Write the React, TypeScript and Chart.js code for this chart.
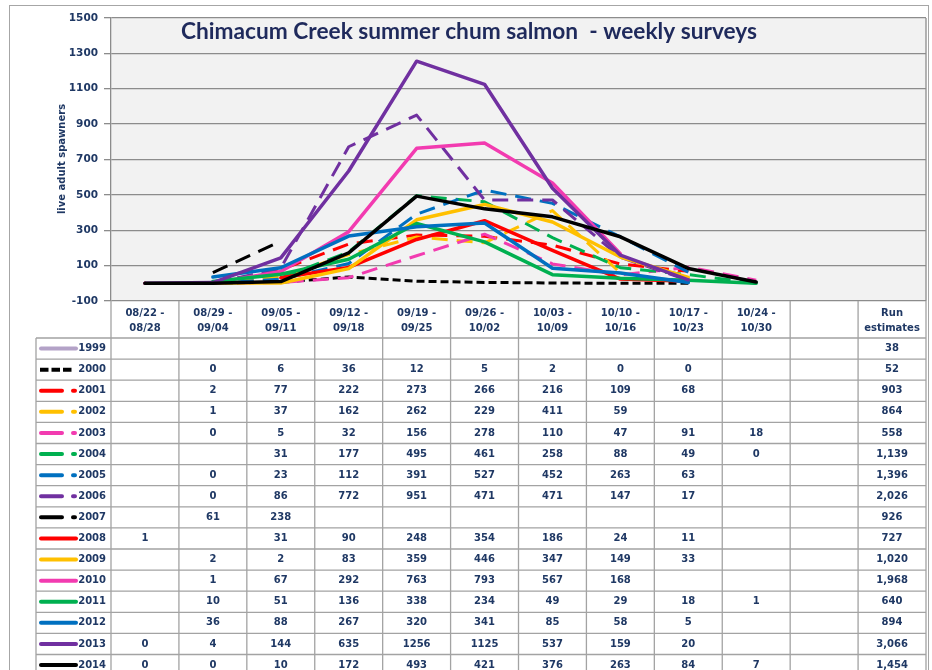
import { useEffect, useRef } from 'react';
import { Chart, registerables } from 'chart.js';

Chart.register(...registerables);

// ---- data ----
const weekStart = ['08/22 -', '08/29 -', '09/05 -', '09/12 -', '09/19 -', '09/26 -', '10/03 -', '10/10 -', '10/17 -', '10/24 -', '', 'Run'];
const weekEnd = ['08/28', '09/04', '09/11', '09/18', '09/25', '10/02', '10/09', '10/16', '10/23', '10/30', '', 'estimates'];

const years = ['1999', '2000', '2001', '2002', '2003', '2004', '2005', '2006', '2007', '2008', '2009', '2010', '2011', '2012', '2013', '2014'];

const y1999: (number | null)[] = [null, null, null, null, null, null, null, null, null, null];
const y2000: (number | null)[] = [null, 0, 6, 36, 12, 5, 2, 0, 0, null];
const y2001: (number | null)[] = [null, 2, 77, 222, 273, 266, 216, 109, 68, null];
const y2002: (number | null)[] = [null, 1, 37, 162, 262, 229, 411, 59, null, null];
const y2003: (number | null)[] = [null, 0, 5, 32, 156, 278, 110, 47, 91, 18];
const y2004: (number | null)[] = [null, null, 31, 177, 495, 461, 258, 88, 49, 0];
const y2005: (number | null)[] = [null, 0, 23, 112, 391, 527, 452, 263, 63, null];
const y2006: (number | null)[] = [null, 0, 86, 772, 951, 471, 471, 147, 17, null];
const y2007: (number | null)[] = [null, 61, 238, null, null, null, null, null, null, null];
const y2008: (number | null)[] = [1, null, 31, 90, 248, 354, 186, 24, 11, null];
const y2009: (number | null)[] = [null, 2, 2, 83, 359, 446, 347, 149, 33, null];
const y2010: (number | null)[] = [null, 1, 67, 292, 763, 793, 567, 168, null, null];
const y2011: (number | null)[] = [null, 10, 51, 136, 338, 234, 49, 29, 18, 1];
const y2012: (number | null)[] = [null, 36, 88, 267, 320, 341, 85, 58, 5, null];
const y2013: (number | null)[] = [0, 4, 144, 635, 1256, 1125, 537, 159, 20, null];
const y2014: (number | null)[] = [0, 0, 10, 172, 493, 421, 376, 263, 84, 7];

const runEstimates = [38, 52, 903, 864, 558, 1139, 1396, 2026, 926, 727, 1020, 1968, 640, 894, 3066, 1454];

const yTicks = { min: -100, max: 1500, step: 200 };

// ---- styles ----
const seriesData = [y1999, y2000, y2001, y2002, y2003, y2004, y2005, y2006, y2007, y2008, y2009, y2010, y2011, y2012, y2013, y2014];
const seriesColor = ['#b3a2c7', '#000000', '#ff0000', '#ffc000', '#f23bb0', '#00b050', '#0070c0', '#7030a0', '#000000', '#ff0000', '#ffc000', '#f23bb0', '#00b050', '#0070c0', '#7030a0', '#000000'];
const seriesKind = ['solid', 'short', 'long', 'long', 'long', 'long', 'long', 'long', 'long', 'solid', 'solid', 'solid', 'solid', 'solid', 'solid', 'solid'];

const TEXT = '#1f3864';
const GRID = '#8c8c8c';
const TABLE_LINE = '#a3a3a3';
const W = 932;
const H = 670;

const fmt = (v: number) => v.toLocaleString('en-US');

const tablePlugin = {
  id: 'tablePlugin',
  beforeDraw(chart: any) {
    const { ctx, chartArea: a } = chart;
    ctx.save();
    ctx.fillStyle = '#ffffff';
    ctx.fillRect(0, 0, W, H);
    ctx.strokeStyle = '#a6a6a6';
    ctx.lineWidth = 1;
    ctx.strokeRect(9.5, 5.5, 919, 700);
    ctx.fillStyle = '#f2f2f2';
    ctx.fillRect(a.left, a.top, a.right - a.left, a.bottom - a.top);
    ctx.restore();
  },
  afterDraw(chart: any) {
    const { ctx, chartArea: a } = chart;
    const xs = chart.scales.x;
    const n = weekStart.length;
    const colW = (a.right - a.left) / n;
    const headerH = 37;
    const rowH = 21.1;
    const headBottom = a.bottom + headerH;
    const legendLeft = 36;
    ctx.save();

    // plot right border
    ctx.strokeStyle = GRID;
    ctx.lineWidth = 1.3;
    ctx.beginPath();
    ctx.moveTo(a.right, a.top);
    ctx.lineTo(a.right, a.bottom);
    ctx.stroke();

    // table grid
    ctx.strokeStyle = TABLE_LINE;
    ctx.lineWidth = 1.3;
    ctx.beginPath();
    for (let k = 0; k <= n; k++) {
      const x = xs.getPixelForValue(0) - colW / 2 + k * colW;
      ctx.moveTo(x, a.bottom);
      ctx.lineTo(x, H);
    }
    ctx.moveTo(legendLeft, headBottom);
    ctx.lineTo(legendLeft, H);
    for (let i = 0; i <= years.length; i++) {
      const y = headBottom + i * rowH;
      ctx.moveTo(legendLeft, y);
      ctx.lineTo(a.right, y);
    }
    ctx.stroke();

    // header text
    ctx.fillStyle = TEXT;
    ctx.font = 'bold 10px "DejaVu Sans"';
    ctx.textAlign = 'center';
    ctx.textBaseline = 'middle';
    for (let j = 0; j < n; j++) {
      const x = xs.getPixelForValue(j);
      ctx.fillText(weekStart[j], x, a.bottom + 12);
      ctx.fillText(weekEnd[j], x, a.bottom + 27);
    }

    // rows
    for (let i = 0; i < years.length; i++) {
      const cy = headBottom + i * rowH + rowH / 2;
      // legend sample
      ctx.strokeStyle = seriesColor[i];
      ctx.lineWidth = 4;
      ctx.lineCap = 'round';
      ctx.beginPath();
      const kind = seriesKind[i];
      if (kind === 'solid') {
        ctx.moveTo(41, cy);
        ctx.lineTo(76, cy);
      } else if (kind === 'short') {
        ctx.lineCap = 'butt';
        for (let d = 0; d < 3; d++) {
          ctx.moveTo(40 + d * 11.5, cy);
          ctx.lineTo(48.5 + d * 11.5, cy);
        }
      } else {
        ctx.moveTo(41, cy);
        ctx.lineTo(62, cy);
        ctx.moveTo(73, cy);
        ctx.lineTo(75, cy);
      }
      ctx.stroke();

      ctx.fillStyle = TEXT;
      ctx.textAlign = 'right';
      ctx.fillText(years[i], 106, cy);
      ctx.textAlign = 'center';
      const vals = seriesData[i];
      for (let j = 0; j < vals.length; j++) {
        const v = vals[j];
        if (v !== null && v !== undefined) ctx.fillText(String(v), xs.getPixelForValue(j), cy);
      }
      ctx.fillText(fmt(runEstimates[i]), xs.getPixelForValue(n - 1), cy);
    }

    // title
    const title = 'Chimacum Creek summer chum salmon  - weekly surveys';
    ctx.font = 'bold 20px Lato';
    const w20 = ctx.measureText(title).width;
    const size = (20 * 576) / w20;
    ctx.font = `bold ${size.toFixed(2)}px Lato`;
    ctx.fillStyle = '#1f2a5c';
    ctx.textAlign = 'center';
    ctx.textBaseline = 'alphabetic';
    ctx.fillText(title, 469, 39);

    // y title
    ctx.translate(62, 159);
    ctx.rotate(-Math.PI / 2);
    ctx.font = 'bold 10px "DejaVu Sans"';
    ctx.fillStyle = TEXT;
    ctx.textAlign = 'center';
    ctx.textBaseline = 'middle';
    ctx.fillText('live adult spawners', 0, 0);

    ctx.restore();
  },
};

export default function App() {
  const ref = useRef<HTMLCanvasElement | null>(null);
  useEffect(() => {
    if (!ref.current) return;
    const datasets = years.map((yr, i) => {
      const kind = seriesKind[i];
      return {
        label: yr,
        data: seriesData[i],
        borderColor: seriesColor[i],
        backgroundColor: seriesColor[i],
        borderWidth: kind === 'solid' ? 3.5 : 3,
        borderDash: kind === 'short' ? [8, 4] : kind === 'long' ? [16, 9] : [],
        borderJoinStyle: 'round' as const,
        borderCapStyle: (kind === 'solid' ? 'round' : 'butt') as any,
        pointRadius: 0,
        tension: 0,
        spanGaps: false,
        order: years.length - 1 - i,
      };
    });
    const chart = new Chart(ref.current, {
      type: 'line',
      data: { labels: weekStart.map((s, i) => `${s} ${weekEnd[i]}`), datasets },
      options: {
        animation: false,
        responsive: false,
        devicePixelRatio: 1,
        layout: { padding: { left: 0, top: 18, right: W - 926, bottom: H - 301 } },
        plugins: { legend: { display: false }, tooltip: { enabled: false }, title: { display: false } },
        scales: {
          x: { type: 'category', display: false, offset: true },
          y: {
            min: yTicks.min,
            max: yTicks.max,
            ticks: {
              stepSize: yTicks.step,
              color: TEXT,
              padding: 6,
              font: { family: '"DejaVu Sans"', weight: 'bold', size: 10.5 },
              callback: (v: any) => String(v),
            },
            grid: { color: GRID, lineWidth: 1.3, tickLength: 7 },
            border: { color: GRID, width: 1.3 },
            afterFit(s: any) {
              s.width = 111;
            },
          },
        },
      },
      plugins: [tablePlugin],
    });
    return () => chart.destroy();
  }, []);
  return (
    <div style={{ position: 'fixed', left: 0, top: 0, width: W, height: H, background: '#fff' }}>
      <canvas ref={ref} width={W} height={H} style={{ width: W, height: H, display: 'block' }} />
    </div>
  );
}
